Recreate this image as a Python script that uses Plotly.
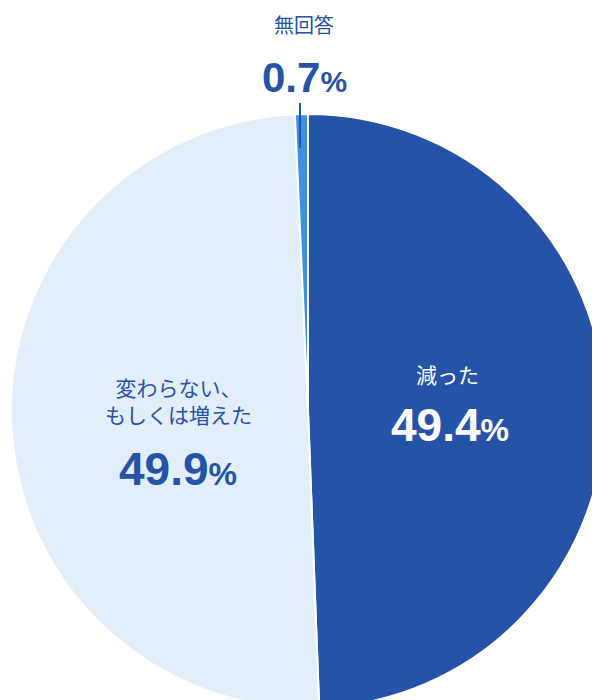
import plotly.graph_objects as go

labels = ["減った", "変わらない、もしくは増えた", "無回答"]
values = [49.4, 49.9, 0.7]
colors = ["#2553A8", "#E3EEFB", "#3D8FE8"]

fig = go.Figure(go.Pie(
    labels=labels, values=values, sort=False, direction="clockwise", rotation=0,
    marker=dict(colors=colors, line=dict(color="white", width=2)),
    textinfo="none", hoverinfo="label+percent", showlegend=False,
    domain=dict(x=[3/600, 597/600], y=[0, 594/700]),
))
F = "Liberation Sans, Noto Sans CJK JP, sans-serif"
J = "Noto Sans CJK JP, sans-serif"
def pct(v, big, small):
    return f"<b><span style='font-size:{big}px'>{v}</span><span style='font-size:{small}px'>%</span></b>"
ann = [
    dict(x=440, y=366, text=labels[0], font=dict(family=J, size=21, color="white")),
    dict(x=442, y=417, text=pct(values[0], 46, 32), font=dict(family=F, size=46, color="white")),
    dict(x=170, y=392, text="変わらない、<br>もしくは増えた", font=dict(family=J, size=21, color="#2553A8")),
    dict(x=170, y=461, text=pct(values[1], 46, 32), font=dict(family=F, size=46, color="#2553A8")),
    dict(x=296, y=17, text=labels[2], font=dict(family=J, size=20, color="#2553A8")),
    dict(x=296, y=70, text=pct(values[2], 42, 30), font=dict(family=F, size=42, color="#2553A8")),
]
for a in ann:
    a.update(xref="paper", yref="paper", showarrow=False, xanchor="center", yanchor="middle")
    a["x"] = a["x"] / 600
    a["y"] = 1 - a["y"] / 700
fig.update_layout(
    width=600, height=700, margin=dict(l=0, r=0, t=0, b=0),
    paper_bgcolor="white", annotations=ann,
    shapes=[dict(type="line", xref="paper", yref="paper", x0=292/600, x1=292/600,
                 y0=1-95/700, y1=1-140/700, line=dict(color="#2553A8", width=2))],
)
fig.write_html("out.html")
